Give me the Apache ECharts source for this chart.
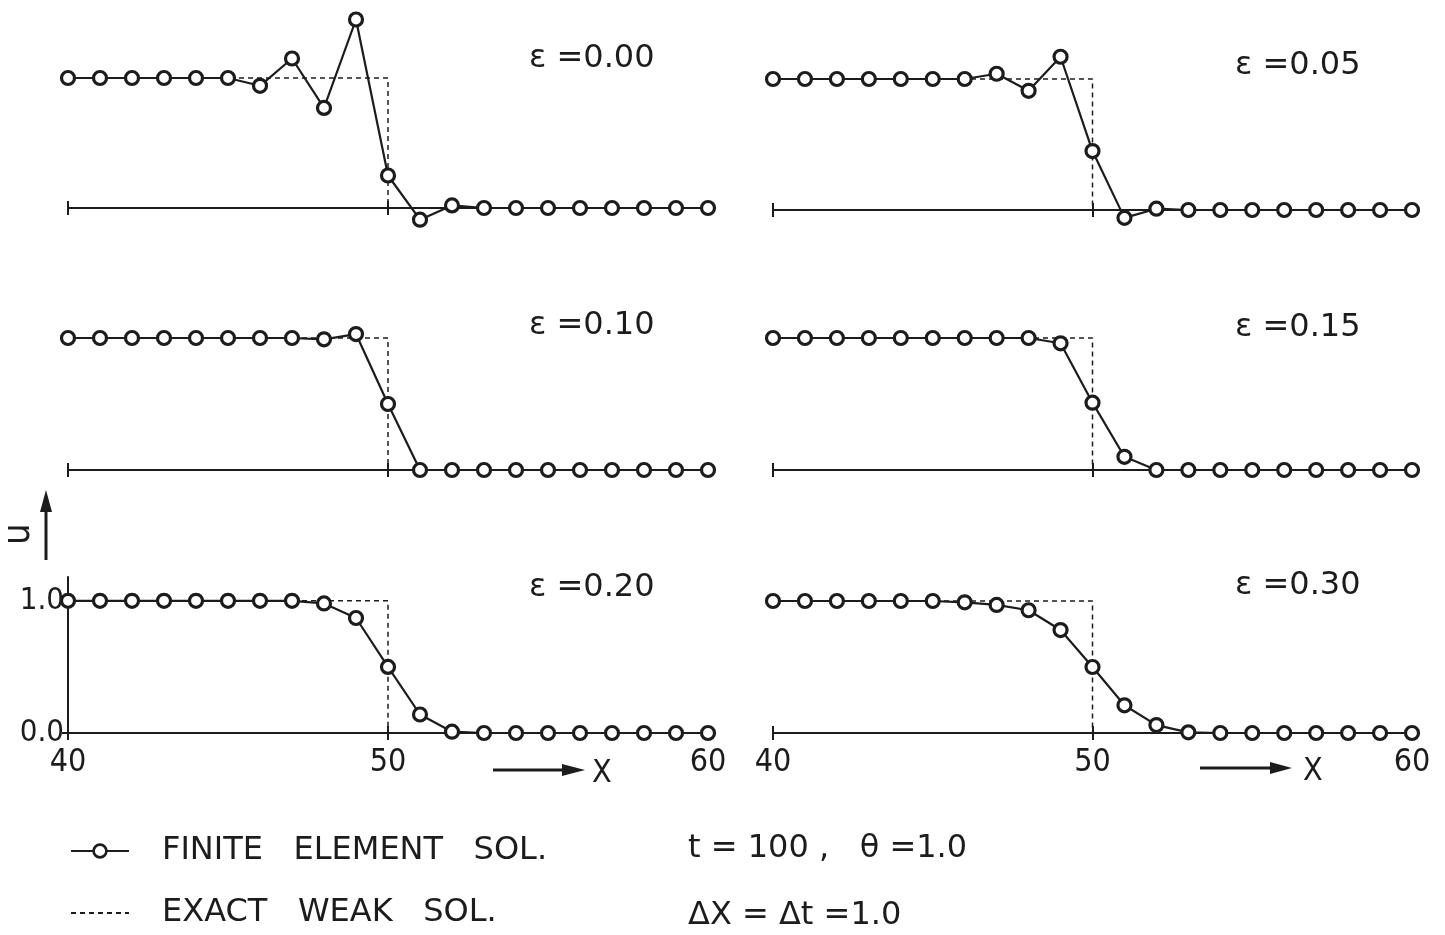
<!DOCTYPE html>
<html>
<head>
<meta charset="utf-8">
<script src="https://cdn.jsdelivr.net/npm/echarts@6/dist/echarts.min.js"></script>
<style>html,body{margin:0;padding:0;background:#fff;}#c{width:1445px;height:935px;}</style>
</head>
<body>
<div id="c"></div>
<script>
// ---- data ----
const xValues = [40,41,42,43,44,45,46,47,48,49,50,51,52,53,54,55,56,57,58,59,60];
const u_eps000 = [1,1,1,1,1,1,0.94,1.15,0.77,1.45,0.25,-0.09,0.02,0,0,0,0,0,0,0,0];
const u_eps005 = [1,1,1,1,1,1,1,1.04,0.91,1.17,0.45,-0.06,0.01,0,0,0,0,0,0,0,0];
const u_eps010 = [1,1,1,1,1,1,1,1,0.99,1.03,0.50,0,0,0,0,0,0,0,0,0,0];
const u_eps015 = [1,1,1,1,1,1,1,1,1,0.96,0.51,0.10,0,0,0,0,0,0,0,0,0];
const u_eps020 = [1,1,1,1,1,1,1,1,0.98,0.87,0.50,0.14,0.01,0,0,0,0,0,0,0,0];
const u_eps030 = [1,1,1,1,1,1,0.99,0.97,0.93,0.78,0.50,0.21,0.06,0.005,0,0,0,0,0,0,0];
const exactX = [40,50,50];
const exactU = [1,1,0];
const epsLabels = ['\u03B5 =0.00','\u03B5 =0.05','\u03B5 =0.10','\u03B5 =0.15','\u03B5 =0.20','\u03B5 =0.30'];
const xTickLabels = ['40','50','60'];
const yTickLabels = ['0.0','1.0'];
const feName = 'FINITE   ELEMENT   SOL.';
const exName = 'EXACT   WEAK   SOL.';

const panels = [u_eps000,u_eps005,u_eps010,u_eps015,u_eps020,u_eps030];
const FONT = "'DejaVu Sans Condensed','Liberation Sans Narrow',sans-serif";
const FONT2 = "'DejaVu Sans',sans-serif";
const INK = '#1c1c1c';

// layout (left/right col, row tops)
const gridsLayout = [
  {left:68, right:737, top:78, height:130},
  {left:773, right:33, top:79, height:131},
  {left:68, right:737, top:338, height:132},
  {left:773, right:33, top:338, height:132},
  {left:68, right:737, top:577, height:156},
  {left:773, right:33, top:601, height:132}
];
const epsPos = [[524,38],[1230,45],[524,305],[1230,307],[524,567],[1230,565]];

const grid=[], xAxis=[], yAxis=[], series=[], title=[];
panels.forEach((u,i)=>{
  grid.push(Object.assign({containLabel:false}, gridsLayout[i]));
  const bottomRow = i>=4;
  xAxis.push({
    type:'value', gridIndex:i, min:40, max:60, interval:10,
    axisLine:{show:true, onZero:true, lineStyle:{color:INK, width:2}},
    axisTick:{show:true, length:7, lineStyle:{color:INK, width:2}},
    splitLine:{show:false},
    axisLabel:{show:bottomRow, color:INK, fontSize:32, fontFamily:FONT, margin:14,
      formatter:v=>xTickLabels[(v-40)/10]}
  });
  xAxis.push({
    type:'value', gridIndex:i, min:40, max:60, interval:10, position:'bottom',
    axisLine:{show:false},
    axisTick:{show:true, inside:true, length:7, lineStyle:{color:INK, width:2}},
    splitLine:{show:false}, axisLabel:{show:false}
  });
  const showY = (i===4);
  yAxis.push({
    type:'value', gridIndex:i, min:0, max: showY?1.18:1,
    show: showY,
    axisLine:{show:showY, lineStyle:{color:INK, width:2}},
    axisTick:{show:showY, length:6, customValues:[0,1], lineStyle:{color:INK,width:2}},
    axisLabel:{show:showY, customValues:[0,1], color:INK, fontSize:31, fontFamily:FONT, margin:4,
      formatter:v=>yTickLabels[Math.round(v)]},
    splitLine:{show:false}
  });
  series.push({
    name: exName, type:'line', xAxisIndex:2*i, yAxisIndex:i,
    data: exactX.map((x,k)=>[x, exactU[k]]),
    symbol:'none', clip:false, z:2,
    lineStyle:{color:INK, width:1.5, type:[5,4]}, itemStyle:{color:INK},
    animation:false, silent:true
  });
  series.push({
    name: feName, type:'line', xAxisIndex:2*i, yAxisIndex:i,
    data: xValues.map((x,k)=>[x, u[k]]),
    symbol:'circle', symbolSize:13, clip:false, z:3,
    lineStyle:{color:INK, width:2.2},
    itemStyle:{color:'#fff', borderColor:INK, borderWidth:3.2},
    animation:false, silent:true
  });
  title.push({text:epsLabels[i], left:epsPos[i][0], top:epsPos[i][1],
    textStyle:{color:INK, fontSize:32, fontWeight:'normal', fontFamily:FONT2}});
});

const chart = echarts.init(document.getElementById('c'), null, {renderer:'canvas'});
chart.setOption({
  backgroundColor:'#fff',
  animation:false,
  title, grid, xAxis, yAxis, series,
  legend:{
    data:[{name:feName, itemStyle:{borderWidth:2.6}}, {name:exName, itemStyle:{opacity:0}}],
    orient:'vertical', left:70, top:835, padding:0, itemGap:30,
    itemWidth:58, itemHeight:16, selectedMode:false,
    textStyle:{color:INK, fontSize:32, fontFamily:FONT2, padding:[0,0,0,28]}
  },
  graphic:[
    {type:'text', left:688, top:833, style:{text:'t = 100 ,   \u03B8 =1.0', fill:INK, font:'32px '+FONT2}},
    {type:'text', left:688, top:900, style:{text:'\u0394X = \u0394t =1.0', fill:INK, font:'32px '+FONT2}},
    // x arrows
    {type:'line', shape:{x1:493,y1:770,x2:568,y2:770}, style:{stroke:INK, lineWidth:3}},
    {type:'polygon', shape:{points:[[562,764],[585,770],[562,776]]}, style:{fill:INK}},
    {type:'text', x:592, y:758, style:{text:'X', fill:INK, font:'32px '+FONT}},
    {type:'line', shape:{x1:1200,y1:768,x2:1275,y2:768}, style:{stroke:INK, lineWidth:3}},
    {type:'polygon', shape:{points:[[1270,762],[1292,768],[1270,774]]}, style:{fill:INK}},
    {type:'text', x:1303, y:756, style:{text:'X', fill:INK, font:'32px '+FONT}},
    // u arrow
    {type:'line', shape:{x1:46,y1:560,x2:46,y2:505}, style:{stroke:INK, lineWidth:3}},
    {type:'polygon', shape:{points:[[40,512],[46,490],[52,512]]}, style:{fill:INK}},
    {type:'text', x:0, y:545, rotation:Math.PI/2, style:{text:'u', fill:INK, font:'38px '+FONT}}
  ]
});
</script>
</body>
</html>
